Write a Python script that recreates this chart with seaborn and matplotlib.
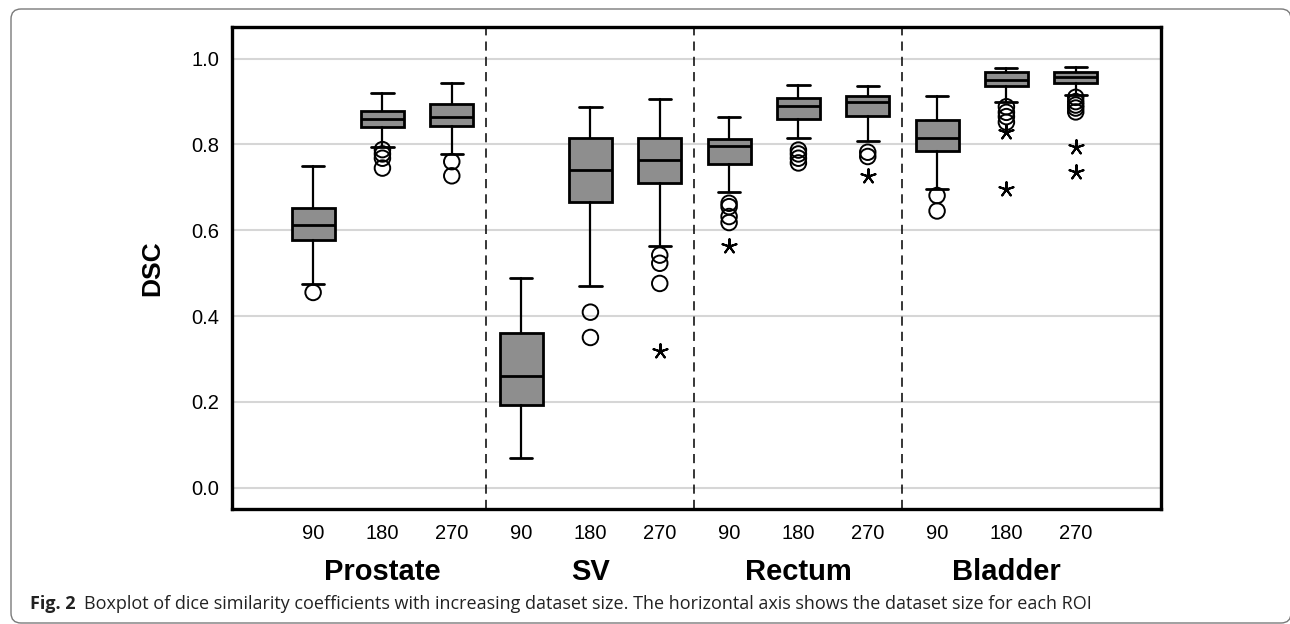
import numpy as np
import pandas as pd
import seaborn as sns
import matplotlib.pyplot as plt
from matplotlib.patches import FancyBboxPatch
from matplotlib.transforms import blended_transform_factory

# ROI groups and dataset sizes
rois = ["Prostate", "SV", "Rectum", "Bladder"]
sizes = ["90", "180", "270"]

# five-number summaries (one entry per box, ROI-major order)
whis_lo = [0.474, 0.794, 0.777, 0.070, 0.470, 0.563, 0.689, 0.815, 0.809, 0.696, 0.900, 0.916]
q1 = [0.578, 0.840, 0.843, 0.193, 0.665, 0.711, 0.755, 0.860, 0.867, 0.786, 0.936, 0.944]
med = [0.612, 0.860, 0.864, 0.261, 0.740, 0.763, 0.796, 0.890, 0.898, 0.816, 0.951, 0.957]
q3 = [0.652, 0.877, 0.894, 0.360, 0.816, 0.815, 0.812, 0.908, 0.912, 0.857, 0.968, 0.970]
whis_hi = [0.750, 0.921, 0.943, 0.489, 0.888, 0.905, 0.865, 0.939, 0.936, 0.912, 0.978, 0.981]

# outliers (circles) and extreme values (asterisks)
outliers = [
    [0.455], [0.788, 0.778, 0.768, 0.745], [0.760, 0.727],
    [], [0.409, 0.350], [0.542, 0.523, 0.476],
    [0.663, 0.655, 0.632, 0.618], [0.787, 0.778, 0.768, 0.757], [0.782, 0.772],
    [0.681, 0.645], [0.888, 0.875, 0.865, 0.852], [0.910, 0.900, 0.892, 0.885, 0.876],
]
extremes = [
    [], [], [],
    [], [], [0.319],
    [0.564], [], [0.726],
    [], [0.829, 0.697], [0.794, 0.736],
]

sns.set_theme(style="white")
plt.rcParams['font.family'] = ['Liberation Sans', 'DejaVu Sans']
plt.rcParams['text.color'] = 'black'
plt.rcParams['axes.labelcolor'] = 'black'

fig = plt.figure(figsize=(12.9, 6.24), dpi=100)
ax = fig.add_axes([232 / 1290, 1 - 509 / 624, 929 / 1290, 482 / 624])

n = len(med)
stats = [dict(whislo=whis_lo[i], q1=q1[i], med=med[i], q3=q3[i], whishi=whis_hi[i], fliers=[])
         for i in range(n)]
ax.bxp(stats, positions=range(n), widths=0.62, patch_artist=True, showfliers=False,
       boxprops=dict(facecolor="#8e8e8e", edgecolor="black", linewidth=2.0),
       medianprops=dict(color="black", linewidth=2.0),
       whiskerprops=dict(color="black", linewidth=1.6),
       capprops=dict(color="black", linewidth=2.0), capwidths=0.32)

rows = []
for i in range(n):
    for v in outliers[i]:
        rows.append((i, v, "out"))
    for v in extremes[i]:
        rows.append((i, v, "ext"))
pts = pd.DataFrame(rows, columns=["pos", "dsc", "kind"])

sns.scatterplot(data=pts[pts.kind == "out"], x="pos", y="dsc", ax=ax, marker="o", s=125,
                facecolor="none", edgecolor="black", linewidth=1.4, zorder=5)
sns.scatterplot(data=pts[pts.kind == "ext"], x="pos", y="dsc", ax=ax, marker=(5, 2, 0), s=110,
                color="black", linewidth=1.5, zorder=5)

# grid, separators
ax.set_ylim(-0.05, 1.074)
ax.set_xlim(-1.17, 12.23)
ax.set_yticks([0.0, 0.2, 0.4, 0.6, 0.8, 1.0])
ax.set_yticklabels(["0.0", "0.2", "0.4", "0.6", "0.8", "1.0"])
ax.yaxis.grid(True, color="#d6d6d6", linewidth=1.5)
ax.set_axisbelow(True)
for b in [2.5, 5.5, 8.5]:
    ax.axvline(b, color="black", linewidth=1.1, dashes=(6, 4), zorder=1)

ax.set_xticks(range(n))
ax.set_xticklabels(sizes * len(rois))
ax.tick_params(axis="both", length=0, labelsize=14.5, colors="black")
ax.tick_params(axis="y", pad=9)
ax.tick_params(axis="x", pad=11)
ax.set_xlabel("")
ax.set_ylabel("DSC", fontsize=19, fontweight="bold", color="black")
ax.yaxis.set_label_coords(-0.073, 0.5)
for sp in ax.spines.values():
    sp.set_visible(True)
    sp.set_color("black")
    sp.set_linewidth(2.4)

trans = blended_transform_factory(ax.transData, ax.transAxes)
for k, roi in enumerate(rois):
    ax.text(3 * k + 1, -0.131, roi, transform=trans, ha="center", va="center",
            fontsize=21, fontweight="bold", color="black")

# caption and page frame
cap_y = 1 - 609 / 624
fig.text(30 / 1290, cap_y, "Fig. 2", fontsize=13, fontweight="bold",
         family=["Open Sans", "DejaVu Sans"], va="baseline", ha="left", color="#222222")
fig.text(84 / 1290, cap_y,
         "Boxplot of dice similarity coefficients with increasing dataset size. "
         "The horizontal axis shows the dataset size for each ROI",
         fontsize=13, family=["Open Sans", "DejaVu Sans"], va="baseline", ha="left",
         color="#222222")
frame = FancyBboxPatch((11, 1), 1280, 614, boxstyle="round,pad=0,rounding_size=10",
                       transform=None, facecolor="none", edgecolor="#7a7a7a", linewidth=1.0)
fig.patches.append(frame)

fig.savefig("out.png", dpi=100)
